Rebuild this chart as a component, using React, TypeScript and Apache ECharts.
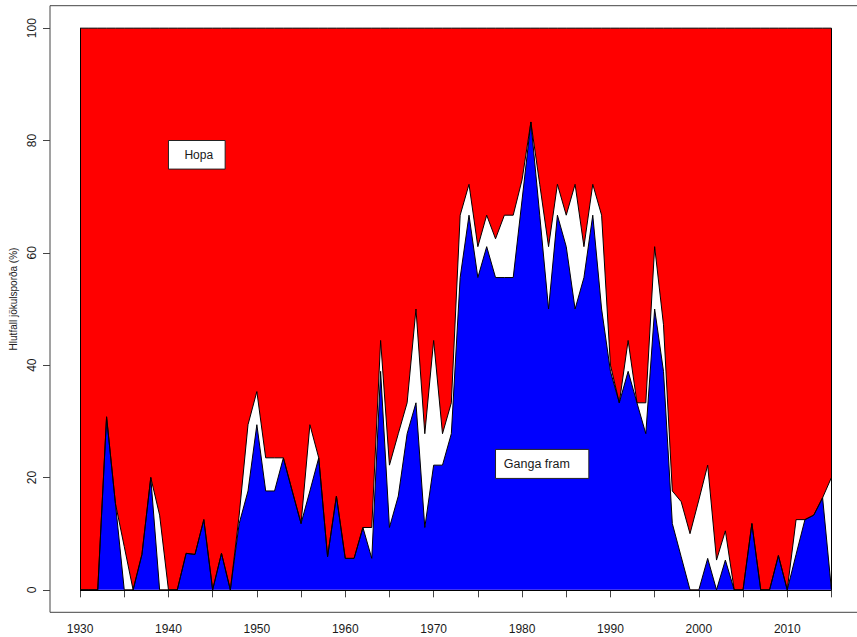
import React, { useEffect, useRef } from "react";
import * as echarts from "echarts";

// Years of observation
const firstYear = 1930;
const lastYear = 2015;
const years: number[] = Array.from({ length: lastYear - firstYear + 1 }, (_, i) => firstYear + i);

// Share of glacier termini advancing (Ganga fram), %
const advancing: number[] = [
  0, 0, 0, 30.8, 15.4, 0, 0, 6.3, 20, 0,
  0, 0, 6.5, 6.3, 12.5, 0, 6.5, 0, 11.8, 17.6,
  29.4, 17.6, 17.6, 23.5, 17.6, 11.8, 17.6, 23.5, 5.9, 16.7,
  5.6, 5.6, 11.1, 5.6, 38.9, 11.1, 16.7, 27.8, 33.3, 11.1,
  22.2, 22.2, 27.8, 55.6, 66.7, 55.6, 61.1, 55.6, 55.6, 55.6,
  69.4, 83.3, 66.7, 50.0, 66.7, 61.1, 50.0, 55.6, 66.7, 50.0,
  38.9, 33.3, 38.9, 33.3, 27.8, 50.0, 38.9, 11.8, 5.9, 0,
  0, 5.6, 0, 5.3, 0, 0, 11.8, 0, 0, 6.1,
  0, 6.3, 12.5, 13.3, 16.4, 0,
];

// Share of glacier termini stationary, %
const stationary: number[] = [
  0, 0, 0, 0, 0, 7.7, 0, 0, 0, 13.3,
  0, 0, 0, 0, 0, 0, 0, 0, 1.5, 11.8,
  5.9, 5.9, 5.9, 0, 0, 0, 11.8, 0, 0, 0,
  0, 0, 0, 5.5, 5.5, 11.1, 11.1, 5.5, 16.7, 16.7,
  22.2, 5.6, 5.5, 11.1, 5.5, 5.5, 5.6, 6.9, 11.1, 11.1,
  3.6, 0, 5.5, 11.1, 5.5, 5.6, 22.2, 5.5, 5.5, 16.7,
  1.1, 0, 5.5, 0, 5.5, 11.1, 8.3, 5.8, 9.8, 10.0,
  16.0, 16.6, 5.3, 5.2, 0, 0, 0, 0, 0, 0,
  0, 6.2, 0, 0, 0, 20.0,
];

// Axis ticks and labels
const xTickValues = [1930, 1935, 1940, 1945, 1950, 1955, 1960, 1965, 1970, 1975, 1980, 1985, 1990, 1995, 2000, 2005, 2010, 2015];
const xLabelValues = [1930, 1940, 1950, 1960, 1970, 1980, 1990, 2000, 2010];
const yTickValues = [0, 20, 40, 60, 80, 100];

const yTitle = "Hlutfall jökulsporða (%)";
const retreatLabel = "Hopa";
const advanceLabel = "Ganga fram";

const FONT = "'Liberation Sans', Arial, Helvetica, sans-serif";

export default function App() {
  const ref = useRef<HTMLDivElement>(null);

  useEffect(() => {
    if (!ref.current) return;
    const chart = echarts.init(ref.current, null, { renderer: "svg" });

    const upper = advancing.map((a, i) => +(a + stationary[i]).toFixed(2));
    const edgeLine = { color: "#000", width: 1 };

    chart.setOption({
      animation: false,
      backgroundColor: "#fff",
      grid: {
        left: 50,
        right: 0.5,
        top: 5.7,
        bottom: 24.7,
        show: true,
        borderColor: "#444",
        borderWidth: 1,
        backgroundColor: "transparent",
      },
      xAxis: {
        type: "value",
        min: 1926.6,
        max: 2018.4,
        splitLine: { show: false },
        axisLine: { show: false },
        axisTick: { show: true, length: 7.5, customValues: xTickValues, lineStyle: { color: "#444", width: 1 } },
        axisLabel: {
          show: true,
          customValues: xLabelValues,
          formatter: (v: number) => String(Math.round(v)),
          margin: 11,
          color: "#1a1a1a",
          fontSize: 12,
          fontFamily: FONT,
        },
      },
      yAxis: {
        type: "value",
        min: -4,
        max: 104,
        splitLine: { show: false },
        axisLine: { show: false },
        axisTick: { show: true, length: 7, customValues: yTickValues, lineStyle: { color: "#444", width: 1 } },
        axisLabel: {
          show: true,
          customValues: yTickValues,
          formatter: (v: number) => String(Math.round(v)),
          rotate: 90,
          margin: 12,
          color: "#1a1a1a",
          fontSize: 12,
          fontFamily: FONT,
        },
      },
      series: [
        {
          type: "line",
          name: retreatLabel,
          data: years.map((y) => [y, 100]),
          showSymbol: false,
          symbol: "none",
          lineStyle: edgeLine,
          itemStyle: { color: "#ff0000" },
          areaStyle: { color: "#ff0000", opacity: 1 },
          silent: true,
        },
        {
          type: "line",
          name: "Kyrrstaða",
          data: years.map((y, i) => [y, upper[i]]),
          showSymbol: false,
          symbol: "none",
          lineStyle: edgeLine,
          itemStyle: { color: "#ffffff" },
          areaStyle: { color: "#ffffff", opacity: 1 },
          silent: true,
        },
        {
          type: "line",
          name: advanceLabel,
          data: years.map((y, i) => [y, advancing[i]]),
          showSymbol: false,
          symbol: "none",
          lineStyle: edgeLine,
          itemStyle: { color: "#0000ff" },
          areaStyle: { color: "#0000ff", opacity: 1 },
          silent: true,
          markLine: {
            silent: true,
            symbol: ["none", "none"],
            label: { show: false },
            lineStyle: { color: "#000", width: 1, type: "solid" },
            emphasis: { disabled: true },
            data: [
              [{ coord: [years[0], 0] }, { coord: [years[0], 100] }],
              [{ coord: [years[years.length - 1], 0] }, { coord: [years[years.length - 1], 100] }],
              [{ coord: [years[0], 0] }, { coord: [years[years.length - 1], 0] }],
            ],
          },
        },
      ],
    });

    const hopa = chart.convertToPixel({ gridIndex: 0 }, [1940, 80]) as number[];
    const ganga = chart.convertToPixel({ gridIndex: 0 }, [1977, 25]) as number[];

    chart.setOption({
      graphic: [
        {
          type: "text",
          x: 13.3,
          y: 299,
          rotation: Math.PI / 2,
          style: { text: yTitle, fill: "#1a1a1a", font: `10px ${FONT}`, align: "center", verticalAlign: "middle" },
        },
        {
          type: "rect",
          shape: { x: hopa[0], y: hopa[1], width: 56.7, height: 28.6 },
          style: { fill: "#fff", stroke: "#222", lineWidth: 1 },
          z: 100,
        },
        {
          type: "text",
          x: hopa[0] + 16,
          y: hopa[1] + 14.3,
          style: { text: retreatLabel, fill: "#1a1a1a", font: `12px ${FONT}`, align: "left", verticalAlign: "middle" },
          z: 101,
        },
        {
          type: "rect",
          shape: { x: ganga[0], y: ganga[1], width: 93.3, height: 29 },
          style: { fill: "#fff", stroke: "#222", lineWidth: 1 },
          z: 100,
        },
        {
          type: "text",
          x: ganga[0] + 8.3,
          y: ganga[1] + 14.5,
          style: { text: advanceLabel, fill: "#1a1a1a", font: `12.5px ${FONT}`, align: "left", verticalAlign: "middle" },
          z: 101,
        },
      ],
    });

    return () => {
      chart.dispose();
    };
  }, []);

  return (
    <div
      style={{ position: "absolute", left: 0, top: 0, width: 857, height: 637, overflow: "hidden", background: "#fff" }}
    >
      <div ref={ref} style={{ position: "absolute", left: 0, top: 0, width: 862, height: 637 }} />
    </div>
  );
}
